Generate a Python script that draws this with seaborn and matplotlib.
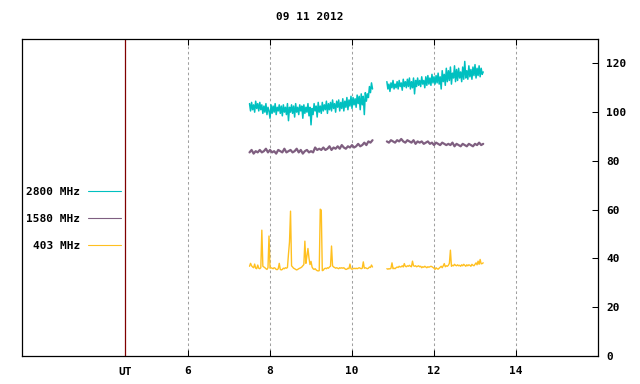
import matplotlib
matplotlib.use("Agg")
import matplotlib.pyplot as plt
from matplotlib.lines import Line2D
import seaborn as sns
import pandas as pd
import numpy as np

TITLE = "09 11 2012"
X_TICKS = [6, 8, 10, 12, 14]
Y_TICKS = [0, 20, 40, 60, 80, 100, 120]
UT_POS = 4.46

# segment start/end hours (UT); samples are evenly spaced within each segment
SEG1 = (7.5, 10.5)
SEG2 = (10.85, 13.2)

# 2800 MHz flux, seg1 then seg2 (0.025 h steps)
f2800_a = [
    103.5, 100.5, 104, 101, 103, 100, 104.5, 101.5, 103.5, 100.5,
    104, 101, 103, 99.5, 102.5, 100, 103.5, 99, 102, 100.5,
    97.5, 103, 99.5, 102.5, 100, 103.5, 99, 102, 100.5, 103,
    99.5, 102.5, 98.5, 103, 100, 102, 99, 103.5, 96.5, 102,
    100, 103, 99.5, 102.5, 98, 103.5, 100, 102, 99, 103,
    100.5, 102.5, 97.5, 103, 99.5, 102, 100, 103.5, 98.5, 102,
    94.8, 101.5, 99, 103.5, 100.5, 102.5, 98, 104, 100, 102.5,
    99.5, 104, 100.5, 103, 101, 104.5, 99.5, 103.5, 101, 104,
    100.5, 105, 101.5, 103.5, 100, 104.5, 102, 105, 100.5, 104,
    101.5, 105.5, 100.5, 104.5, 102, 106, 101, 105, 102.5, 106.5,
    101.5, 106, 103, 105.5, 102, 107, 103.5, 106.5, 101, 107.5,
    103, 106.5, 99, 108, 104.5, 107.5, 106, 110.5, 108, 112,
    109.5,
]
f2800_b = [
    112.5, 109.5, 111.5, 108.5, 112, 110, 113, 109.5, 111.5, 110,
    112.5, 109.5, 113, 110.5, 112, 109, 113.5, 110.5, 112.5, 110,
    113.5, 110.5, 114, 109.5, 112.5, 110, 114, 107.5, 113, 110.5,
    114, 111, 113, 110.5, 114.5, 111.5, 113, 110, 114.5, 111,
    115, 111.5, 114, 111, 115.5, 112, 114.5, 111.5, 115, 112,
    116, 111.5, 114.5, 109.5, 117, 112.5, 115.5, 111, 118, 112.5,
    117, 113, 118.5, 111.5, 116, 114, 119, 112.5, 117.5, 113,
    118, 114, 116.5, 112.5, 118.5, 113.5, 120.8, 114, 117, 113.5,
    119, 114.5, 117.5, 113.5, 118.5, 115, 119.5, 114, 118, 115,
    119, 114.5, 118, 115.5, 116.5,
]

# 1580 MHz flux (0.05 h steps)
f1580_a = [
    83.5, 84.5, 83, 84, 83.5, 84.5, 83.5, 84, 85, 83.5,
    84.5, 83.5, 84, 83, 84.5, 84, 83.5, 85, 83.5, 84,
    84.5, 83.5, 84, 85, 83.5, 84.5, 83, 84, 84.5, 83.5,
    84, 83.5, 85.5, 84.5, 85, 84.5, 85.5, 84.5, 85, 86,
    84.5, 85.5, 85, 86, 85, 86.5, 85.5, 85, 86, 85.5,
    86.5, 85.5, 86, 87, 86, 86.5, 87.5, 86.5, 88, 87.5,
    88.5,
]
f1580_b = [
    88, 87.5, 88.5, 88, 87.5, 88.5, 88, 89, 88, 87.5,
    88.5, 88, 87.5, 88.5, 87, 88, 87.5, 88, 87, 87.5,
    88, 87, 87.5, 86.5, 87.5, 87, 86.5, 87.5, 87, 86.5,
    87, 86.5, 87.5, 86, 87, 86.5, 86, 87, 86.5, 86,
    87, 86.5, 86, 87, 86.5, 87.5, 86.5, 87,
]

# 403 MHz flux (0.025 h steps)
f403_a = [
    36.8, 38.0, 37.0, 36.5, 36.2, 37.7, 36.0, 35.8, 37.3, 36.0,
    35.8, 36.2, 51.6, 36.8, 36.5, 36.2, 35.8, 35.5, 36.2, 49.2,
    36.0, 36.2, 36.0, 35.8, 36.2, 36.0, 35.5, 35.4, 35.8, 38.0,
    35.5, 35.3, 35.5, 36.0, 35.8, 36.2, 36.0, 36.3, 41.8, 46.8,
    59.4, 37.0, 36.5, 36.0, 35.8, 35.5, 35.3, 35.5, 35.8, 36.0,
    36.2, 36.5, 37.0, 37.5, 47.1, 38.0, 41.0, 44.1, 40.2, 37.5,
    38.8, 36.5, 35.8, 35.5, 35.8, 35.3, 35.0, 34.9, 35.0, 60.2,
    59.8, 35.0, 35.2, 35.8, 36.0, 35.8, 36.2, 36.0, 36.5, 36.8,
    45.1, 37.0, 36.5, 36.3, 36.0, 36.2, 36.0, 35.8, 36.2, 36.0,
    36.2, 36.0, 36.2, 35.8, 35.5, 35.6, 36.0, 35.8, 37.7, 35.8,
    35.6, 35.8, 36.0, 35.8, 36.0, 35.8, 36.0, 36.2, 36.0, 35.8,
    36.0, 38.6, 36.0, 36.2, 36.0, 35.8, 36.0, 36.5, 36.3, 37.3,
    36.5,
]
f403_b = [
    35.8, 35.6, 35.8, 35.7, 36.0, 38.2, 35.8, 36.0, 35.8, 36.2,
    36.5, 36.3, 36.8, 36.5, 36.6, 37.0, 36.5, 37.9, 36.8, 36.6,
    37.0, 36.8, 37.2, 36.8, 36.6, 38.9, 37.0, 36.8, 37.0, 36.6,
    36.8, 37.0, 36.6, 36.8, 36.2, 36.6, 36.4, 36.8, 36.5, 36.2,
    36.6, 36.4, 36.6, 36.8, 36.6, 36.3, 36.0, 35.5, 36.2, 35.8,
    35.6, 36.0, 36.4, 36.8, 36.2, 37.0, 37.9, 36.6, 37.0, 36.8,
    37.2, 38.0, 43.4, 36.8, 37.2, 37.0, 37.6, 37.2, 37.0, 37.4,
    37.0, 37.2, 36.8, 37.4, 37.0, 37.6, 37.2, 36.8, 37.4, 37.0,
    37.4, 37.2, 36.8, 37.6, 37.2, 37.0, 37.6, 38.2, 37.4, 38.9,
    37.6, 39.6, 37.8, 37.9, 38.2,
]

SERIES = [
    ("2800 MHz", "#00c0c0", f2800_a, f2800_b, 1.1),
    ("1580 MHz", "#7f5f80", f1580_a, f1580_b, 1.6),
    ("403 MHz", "#ffc020", f403_a, f403_b, 1.0),
]


def seg_df(seg, values):
    t = np.linspace(seg[0], seg[1], len(values))
    return pd.DataFrame({"UT": t, "flux": values})


sns.set_style("white")
plt.rcParams["font.family"] = ["DejaVu Sans Mono"]
plt.rcParams["font.weight"] = "bold"
plt.rcParams["text.color"] = "black"
plt.rcParams["xtick.color"] = "black"
plt.rcParams["ytick.color"] = "black"

fig = plt.figure(figsize=(6.4, 3.84), dpi=100)
ax = fig.add_axes([22 / 640, 1 - 356 / 384, 576 / 640, 317 / 384])

# dotted hour grid + UT marker line
for x in X_TICKS:
    ax.axvline(x, color="#a0a0a0", lw=0.75, ls=(0, (2.5, 2.5)), zorder=0)
ax.axvline(UT_POS, color="#800000", lw=0.9, zorder=1)

# 403 first so the upper bands sit on top
for label, color, a, b, lw in reversed(SERIES):
    for seg, vals in ((SEG1, a), (SEG2, b)):
        sns.lineplot(data=seg_df(seg, vals), x="UT", y="flux", ax=ax,
                     color=color, lw=lw, legend=False)

ax.set_xlim(1.95, 16.0)
ax.set_ylim(0, 130)
ax.set_xticks(X_TICKS)
ax.set_xticklabels([str(x) for x in X_TICKS])
ax.set_yticks(Y_TICKS)
ax.yaxis.tick_right()
ax.tick_params(axis="x", direction="in", length=4, width=0.75, top=True,
               bottom=True, pad=7, labelsize=8)
ax.tick_params(axis="y", direction="in", length=4, width=0.75, left=False,
               right=True, pad=6, labelsize=8)
ax.set_xlabel("")
ax.set_ylabel("")
for s in ax.spines.values():
    s.set_color("black")
    s.set_linewidth(0.9)

ax.text(UT_POS, -0.035, "UT", transform=ax.get_xaxis_transform(),
        ha="center", va="top", fontsize=8, fontweight="bold")
ax.set_title(TITLE, fontsize=8, fontweight="bold", pad=14)

handles = [Line2D([], [], color=c, lw=0.8) for _, c, _, _, _ in SERIES]
labels = [lab for lab, _, _, _, _ in SERIES]
ax.legend(handles, labels, loc="center right",
          bbox_to_anchor=(99 / 576, (356 - 219) / 317), markerfirst=False,
          frameon=False, fontsize=8, handlelength=3.0, handletextpad=0.7,
          labelspacing=1.55, borderpad=0, borderaxespad=0)

fig.savefig("out.png", dpi=100)
